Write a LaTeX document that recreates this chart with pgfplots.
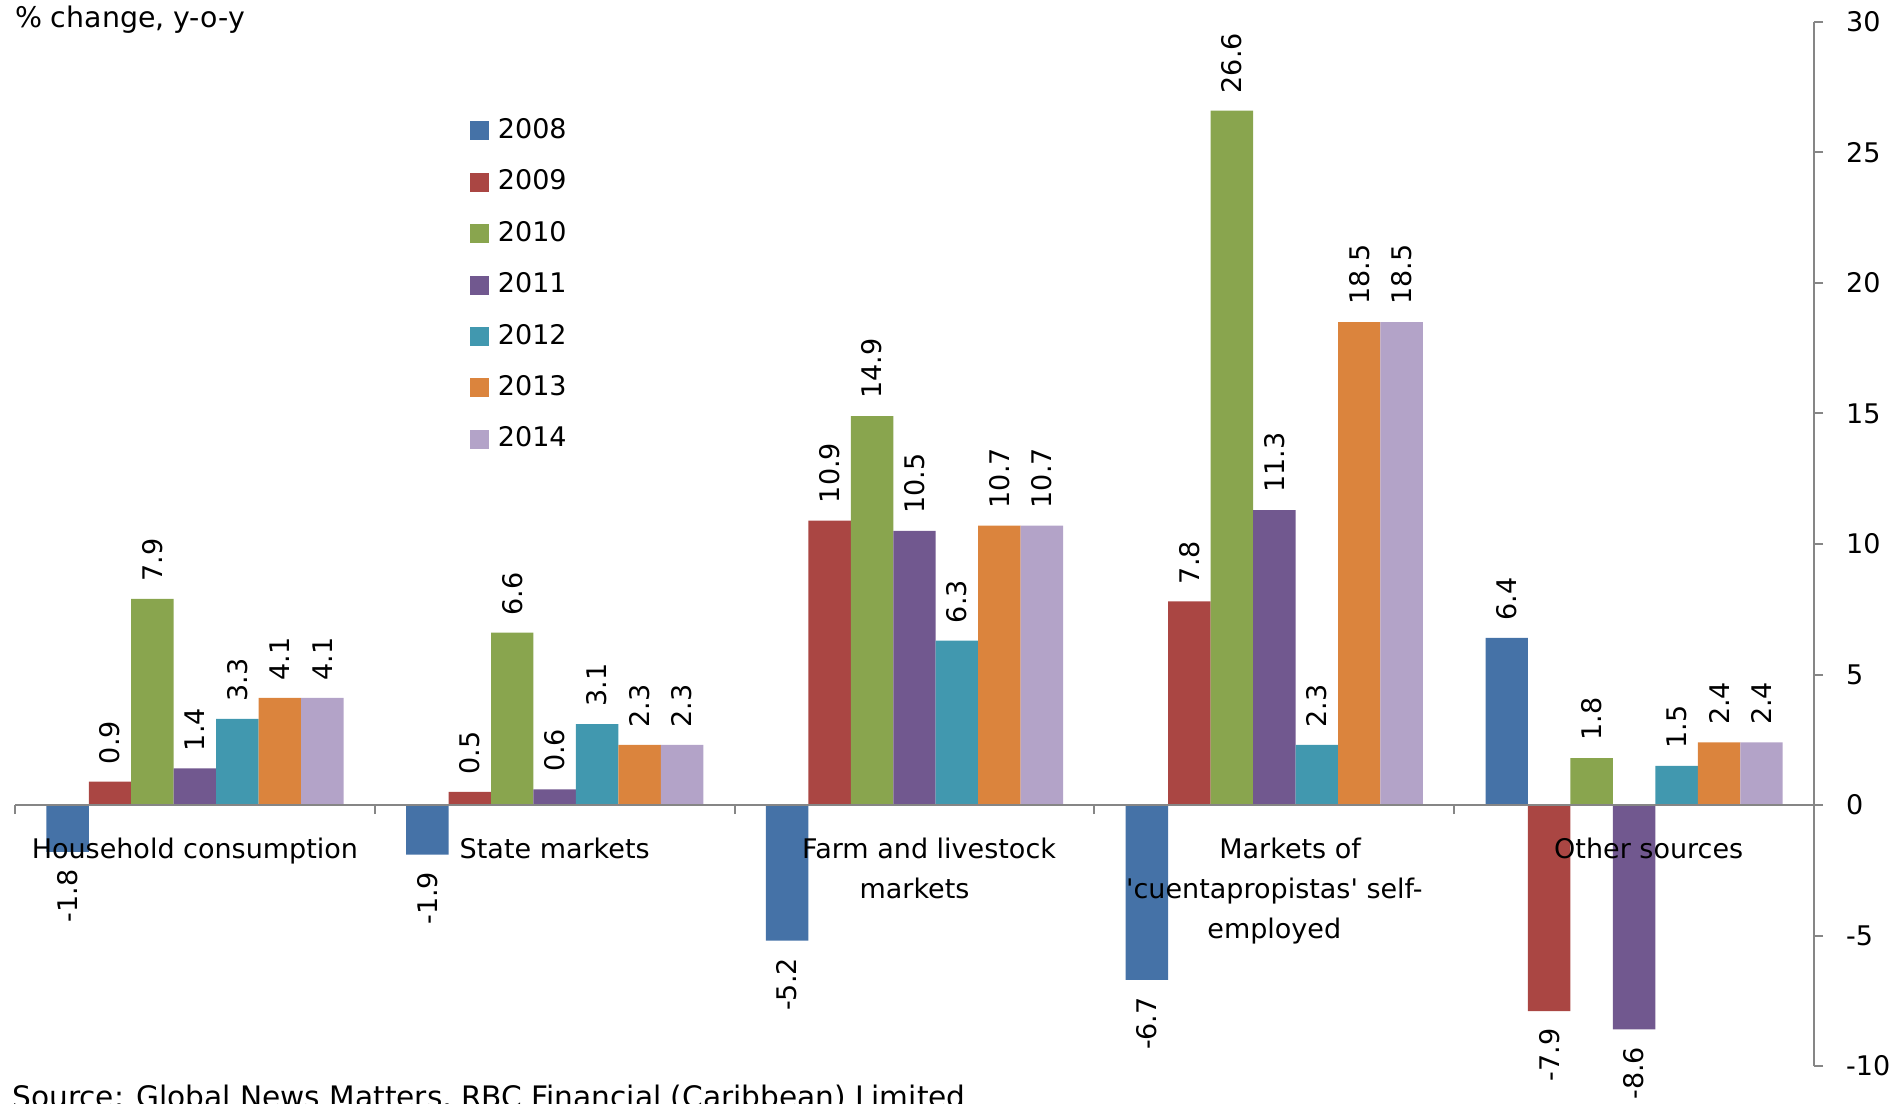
\documentclass[border=0pt]{standalone}
\usepackage{pgfplots}
\pgfplotsset{compat=1.18}
\usepackage{fontspec}
\setmainfont{DejaVu Sans}[Ligatures=TeXOff]
\definecolor{c08}{HTML}{4572A7}
\definecolor{c09}{HTML}{AA4643}
\definecolor{c10}{HTML}{89A54E}
\definecolor{c11}{HTML}{71588F}
\definecolor{c12}{HTML}{4198AF}
\definecolor{c13}{HTML}{DB843D}
\definecolor{c14}{HTML}{B3A3C8}
\definecolor{axgray}{HTML}{868686}
\newcommand{\fs}{\fontsize{13.5}{20}\selectfont}
\begin{document}
\begin{tikzpicture}[font=\fs]
\useasboundingbox (-7.5pt,-18.5pt) rectangle (944.5pt,533pt);
\begin{axis}[
  at={(0pt,0pt)}, anchor=south west,
  scale only axis, width=899.5pt, height=522pt,
  xmin=-0.5, xmax=4.5, ymin=-10, ymax=30,
  ybar=0pt, bar width=0.118,
  axis on top,
  axis x line*=middle, axis y line*=right,
  axis line style={draw=axgray, line width=1.3pt},
  xtick={0,...,4},
  xticklabels={Household consumption, State markets, {\hspace*{14.6pt}Farm and livestock\\markets}, {\hspace*{15.8pt}Markets of\\'cuentapropistas' self-\\employed}, {\hspace*{14.6pt}Other sources}},
  major x tick style={draw=none},
  minor xtick={-0.5,0.5,1.5,2.5,3.5,4.5},
  minor x tick style={draw=axgray, line width=1pt},
  minor tick length=4.5pt,
  xtick align=outside,
  ytick={-10,-5,...,30},
  major y tick style={draw=axgray, line width=1pt},
  major tick length=4.5pt,
  ytick align=outside,
  xticklabel style={align=center, font=\fs, anchor=north, inner sep=0pt, yshift=-11.8pt},
  yticklabel style={font=\fs, anchor=west, inner sep=0pt, xshift=11.4pt},
  /pgf/number format/assume math mode=true,
  nodes near coords={\pgfmathprintnumber[fixed,fixed zerofill,precision=1,assume math mode=true]{\pgfplotspointmeta}},
  nodes near coords align=horizontal,
  nodes near coords style={font=\fs, rotate=90, inner xsep=8.5pt, inner ysep=0pt, text=black},
  clip=false,
  legend style={at={(0.2529,0.9079)}, anchor=north west, draw=none, fill=none, inner sep=0pt, font=\fs, row sep=14.16pt, nodes={inner sep=0pt}, /tikz/every odd column/.append style={column sep=4.3pt}},
  legend cell align=left,
  legend image code/.code={\fill[#1] (0pt,-5.2pt) rectangle (9.5pt,4.3pt);},
]
\addplot[fill=c08, draw=none] coordinates {(0,-1.8) (1,-1.9) (2,-5.2) (3,-6.7) (4,6.4)};
\addplot[fill=c09, draw=none] coordinates {(0,0.9) (1,0.5) (2,10.9) (3,7.8) (4,-7.9)};
\addplot[fill=c10, draw=none] coordinates {(0,7.9) (1,6.6) (2,14.9) (3,26.6) (4,1.8)};
\addplot[fill=c11, draw=none] coordinates {(0,1.4) (1,0.6) (2,10.5) (3,11.3) (4,-8.6)};
\addplot[fill=c12, draw=none] coordinates {(0,3.3) (1,3.1) (2,6.3) (3,2.3) (4,1.5)};
\addplot[fill=c13, draw=none] coordinates {(0,4.1) (1,2.3) (2,10.7) (3,18.5) (4,2.4)};
\addplot[fill=c14, draw=none] coordinates {(0,4.1) (1,2.3) (2,10.7) (3,18.5) (4,2.4)};
\legend{2008,2009,2010,2011,2012,2013,2014}
\node[anchor=base west, inner sep=0pt, xshift=-0.2pt, yshift=-3pt, font=\fontsize{14.2}{17}\selectfont] at (rel axis cs:0,1) {\% change, y-o-y};
\node[anchor=base west, inner sep=0pt, xshift=-1.5pt, yshift=-20.5pt, font=\fontsize{14.8}{18}\selectfont] at (rel axis cs:0,0) {Source: Global News Matters, RBC Financial (Caribbean) Limited};
\end{axis}
\end{tikzpicture}
\end{document}
